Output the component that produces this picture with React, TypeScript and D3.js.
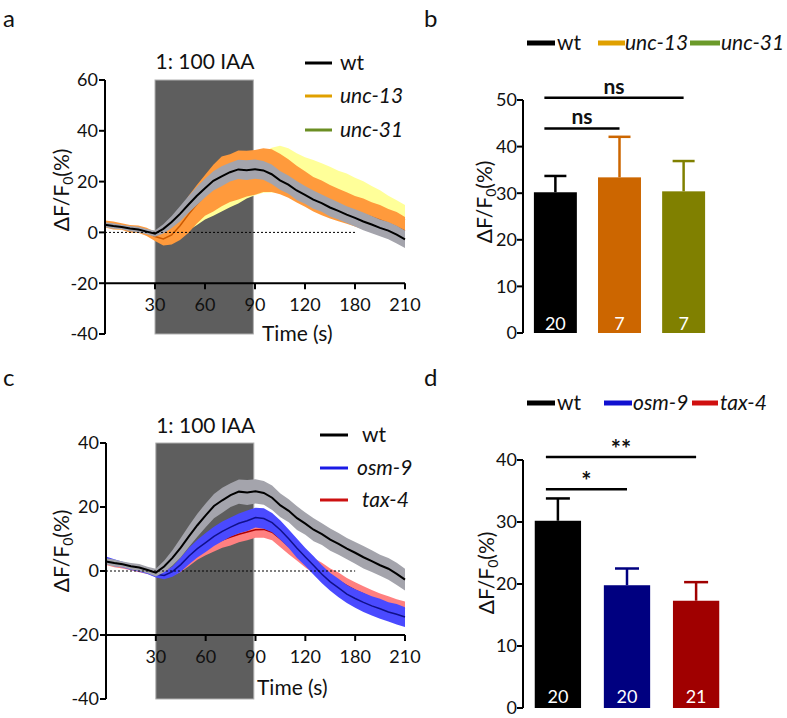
import React from 'react';
import * as d3 from 'd3';

// ---------- DATA ----------
const TIME = [0, 5, 10, 15, 20, 25, 30, 35, 40, 45, 50, 55, 60, 65, 70, 75, 80, 85, 90, 95, 100, 105, 110, 115, 120, 125, 130, 135, 140, 145, 150, 155, 160, 165, 170, 175, 180];
const X_TICK_VALUES = [30, 60, 90, 120, 150, 180];
const X_TICK_LABELS = ['30', '60', '90', '120', '180', '210'];
const STIMULUS = [30, 89];
const STIM_LABEL = '1: 100 IAA';

const WT_MEAN = [3.0, 2.5, 2.1, 1.5, 1.1, 0.3, -0.5, 1.4, 4.1, 7.3, 10.9, 14.3, 17.4, 20.3, 22.1, 23.7, 24.8, 24.5, 24.9, 24.4, 22.9, 20.5, 18.8, 16.5, 14.8, 12.9, 11.5, 9.8, 8.5, 7.0, 5.7, 4.3, 3.1, 1.8, 0.7, -0.9, -2.7];
const WT_SEM = [1.0, 1.1, 0.9, 1.0, 1.1, 1.0, 1.2, 1.8, 2.4, 3.0, 3.3, 3.6, 3.7, 3.8, 3.9, 3.7, 3.8, 3.9, 3.8, 3.7, 3.8, 3.7, 3.6, 3.7, 3.5, 3.6, 3.4, 3.5, 3.4, 3.3, 3.4, 3.5, 3.4, 3.3, 3.4, 3.5, 3.4];

const UNC13_MEAN = [3.3, 2.7, 2.3, 1.4, 1.3, 0.2, -1.6, -2.6, -1.0, 2.6, 7.0, 11.0, 14.6, 17.4, 20.1, 21.4, 22.6, 23.1, 23.6, 24.5, 24.3, 23.0, 21.2, 19.0, 17.1, 15.0, 13.6, 12.1, 10.8, 9.6, 8.3, 7.2, 6.1, 4.9, 3.6, 2.2, 0.6];
const UNC13_SEM = [1.4, 1.6, 1.3, 1.5, 1.4, 1.6, 1.8, 2.6, 3.8, 5.6, 7.2, 7.6, 8.0, 9.2, 9.8, 9.4, 9.6, 9.0, 8.8, 8.6, 8.4, 8.0, 7.6, 7.2, 7.0, 6.8, 6.8, 6.6, 6.4, 6.2, 6.0, 6.1, 5.8, 5.9, 5.6, 5.8, 5.5];

const UNC31_MEAN = [3.1, 2.4, 2.0, 1.6, 1.0, 0.4, -0.6, -1.5, -1.4, 0.6, 3.1, 5.4, 8.1, 10.2, 12.6, 15.1, 17.4, 20.1, 22.0, 23.6, 24.5, 24.9, 24.3, 22.6, 21.0, 19.7, 18.6, 17.0, 15.8, 14.5, 13.1, 11.9, 10.5, 9.0, 7.4, 6.1, 4.8];
const UNC31_SEM = [1.0, 1.1, 1.0, 0.9, 1.1, 1.0, 1.2, 1.6, 2.0, 2.2, 2.4, 2.6, 3.0, 3.6, 4.4, 5.2, 6.0, 6.8, 7.4, 8.0, 8.8, 9.2, 8.8, 8.6, 8.6, 8.8, 8.6, 8.8, 8.5, 8.7, 8.4, 8.2, 7.8, 7.6, 7.0, 6.6, 6.0];

const OSM9_MEAN = [3.5, 2.6, 2.0, 1.3, 0.8, 0.0, -1.0, -1.4, -0.2, 2.0, 4.7, 7.0, 8.9, 10.8, 12.4, 13.7, 14.9, 15.7, 16.7, 16.4, 15.1, 12.8, 10.1, 7.1, 4.4, 1.7, -1.0, -3.4, -5.3, -7.2, -8.6, -9.8, -10.9, -11.8, -12.8, -13.5, -14.4];
const OSM9_SEM = [1.0, 1.1, 0.9, 1.0, 1.0, 0.9, 1.0, 1.2, 1.6, 2.2, 2.6, 2.8, 3.0, 3.0, 3.1, 3.0, 3.1, 3.2, 3.1, 3.2, 3.0, 3.0, 2.9, 3.0, 2.8, 2.9, 2.8, 2.8, 2.9, 2.8, 2.9, 3.0, 3.0, 3.1, 3.0, 3.2, 3.1];

const TAX4_MEAN = [2.8, 2.2, 1.7, 1.2, 0.5, 0.1, -0.8, -1.0, -0.2, 1.5, 3.7, 5.8, 7.3, 8.6, 9.7, 10.6, 11.5, 12.2, 12.9, 13.0, 12.1, 10.0, 7.7, 5.6, 3.6, 1.7, 0.1, -1.6, -3.0, -4.6, -6.0, -7.2, -8.4, -9.4, -10.4, -11.2, -12.0];
const TAX4_SEM = [0.9, 1.0, 0.9, 1.0, 0.9, 1.0, 1.0, 1.1, 1.4, 1.8, 2.1, 2.3, 2.4, 2.5, 2.4, 2.6, 2.5, 2.6, 2.5, 2.6, 2.5, 2.6, 2.5, 2.4, 2.5, 2.4, 2.5, 2.4, 2.5, 2.4, 2.5, 2.4, 2.5, 2.4, 2.5, 2.4, 2.5];

const BAR_B_CATS = ['wt', 'unc-13', 'unc-31'];
const BAR_B_MEANS = [30.2, 33.4, 30.4];
const BAR_B_ERR = [3.5, 8.7, 6.5];
const BAR_B_N = ['20', '7', '7'];
const SIG_B_FROM = [0, 0];
const SIG_B_TO = [2, 1];
const SIG_B_Y = [50.5, 43.9];
const SIG_B_LABEL = ['ns', 'ns'];

const BAR_D_CATS = ['wt', 'osm-9', 'tax-4'];
const BAR_D_MEANS = [30.2, 19.8, 17.3];
const BAR_D_ERR = [3.6, 2.7, 3.0];
const BAR_D_N = ['20', '20', '21'];
const SIG_D_FROM = [0, 0];
const SIG_D_TO = [2, 1];
const SIG_D_Y = [40.5, 35.3];
const SIG_D_LABEL = ['**', '*'];

// ---------- STYLE ----------
const FONT = 'Lato, "Open Sans", sans-serif';

type Series = { mean: number[]; sem: number[]; band: string; line: string; lw: number };

function YLabel({ x, y }: { x: number; y: number }) {
  return (
    <text transform={`translate(${x},${y}) rotate(-90)`} textAnchor="middle" fontSize={21} fontFamily={FONT} fill="#111">
      ΔF/F<tspan fontSize={14} dy={4}>0</tspan>
      <tspan dy={-4}>(%)</tspan>
    </text>
  );
}

function TracePanel(props: {
  x0: number; x1: number; yDomain: [number, number]; yRange: [number, number];
  series: Series[]; legendNames: string[]; legendColors: string[]; legendItalic: boolean[];
  legendLineX: [number, number]; legendTextX: number[]; legendY: number[];
  titleY: number; timeX: number; timeY: number; yLabelX: number; yLabelY: number;
}) {
  const x = d3.scaleLinear().domain([0, 180]).range([props.x0, props.x1]);
  const y = d3.scaleLinear().domain(props.yDomain).range(props.yRange);
  const axisY = y(-20);
  const yTicks = y.ticks(5);
  return (
    <g fontFamily={FONT}>
      <rect x={x(STIMULUS[0])} y={y(props.yDomain[1])} width={x(STIMULUS[1]) - x(STIMULUS[0])}
        height={y(props.yDomain[0]) - y(props.yDomain[1])} fill="#5e5e5e" stroke="#b0b0b0" strokeWidth={1} />
      <text x={x(60)} y={props.titleY} textAnchor="middle" fontSize={21} fill="#111">{STIM_LABEL}</text>
      {props.series.map((s, k) => {
        const band = d3.area<number>()
          .x((_, i) => x(TIME[i]))
          .y0((m, i) => y(m - s.sem[i]))
          .y1((m, i) => y(m + s.sem[i]));
        const line = d3.line<number>().x((_, i) => x(TIME[i])).y((m) => y(m));
        return (
          <g key={k}>
            <path d={band(s.mean) || ''} fill={s.band} stroke="none" />
            <path d={line(s.mean) || ''} fill="none" stroke={s.line} strokeWidth={s.lw} />
          </g>
        );
      })}
      <line x1={x(0)} x2={x(150)} y1={y(0)} y2={y(0)} stroke="#000" strokeWidth={1} strokeDasharray="2,2" />
      {/* y axis */}
      <line x1={x(0)} x2={x(0)} y1={y(props.yDomain[0])} y2={y(props.yDomain[1])} stroke="#000" strokeWidth={2} />
      {yTicks.map((t) => (
        <g key={t}>
          <line x1={x(0) - 6} x2={x(0)} y1={y(t)} y2={y(t)} stroke="#000" strokeWidth={2} />
          <text x={x(0) - 7} y={y(t)} dy="0.36em" textAnchor="end" fontSize={18} fill="#111">{t}</text>
        </g>
      ))}
      {/* x axis */}
      <line x1={x(0)} x2={x(180)} y1={axisY} y2={axisY} stroke="#000" strokeWidth={2} />
      {X_TICK_VALUES.map((t, i) => (
        <g key={t}>
          <line x1={x(t)} x2={x(t)} y1={axisY} y2={axisY + 6} stroke="#000" strokeWidth={2} />
          <text x={x(t)} y={axisY + 28} textAnchor="middle" fontSize={18} fill="#111">{X_TICK_LABELS[i]}</text>
        </g>
      ))}
      <text x={props.timeX} y={props.timeY} fontSize={21} fill="#111">Time (s)</text>
      <YLabel x={props.yLabelX} y={props.yLabelY} />
      {props.legendNames.map((n, i) => (
        <g key={n}>
          <line x1={props.legendLineX[0]} x2={props.legendLineX[1]} y1={props.legendY[i]} y2={props.legendY[i]}
            stroke={props.legendColors[i]} strokeWidth={3} />
          <text x={props.legendTextX[i]} y={props.legendY[i]} dy="0.35em" fontSize={21}
            fontStyle={props.legendItalic[i] ? 'italic' : 'normal'} fill="#111">{n}</text>
        </g>
      ))}
    </g>
  );
}

function BarPanel(props: {
  cats: string[]; means: number[]; errs: number[]; ns: string[]; colors: string[];
  range: [number, number]; yDomain: [number, number]; yRange: [number, number];
  sigFrom: number[]; sigTo: number[]; sigY: number[]; sigLabel: string[]; sigBold: boolean; sigSize: number; sigOffset: number;
  legendColors: string[]; legendLineX: [number, number][]; legendTextX: number[]; legendY: number;
  yLabelX: number; yLabelY: number; nY: number; capW: number;
}) {
  const x = d3.scaleBand<string>().domain(props.cats).range(props.range).paddingInner(0.33).paddingOuter(0.17);
  const y = d3.scaleLinear().domain(props.yDomain).range(props.yRange);
  const ax = props.range[0];
  const bw = x.bandwidth();
  return (
    <g fontFamily={FONT}>
      {props.cats.map((c, i) => {
        const cx = (x(c) as number) + bw / 2;
        return (
          <g key={c}>
            <line x1={cx} x2={cx} y1={y(props.means[i])} y2={y(props.means[i] + props.errs[i])} stroke={props.colors[i]} strokeWidth={2.5} />
            <line x1={cx - props.capW / 2} x2={cx + props.capW / 2} y1={y(props.means[i] + props.errs[i])} y2={y(props.means[i] + props.errs[i])} stroke={props.colors[i]} strokeWidth={2.5} />
            <rect x={x(c)} y={y(props.means[i])} width={bw} height={y(0) - y(props.means[i])} fill={props.colors[i]} />
            <text x={cx} y={props.nY} textAnchor="middle" fontSize={18} fill="#fff">{props.ns[i]}</text>
          </g>
        );
      })}
      <line x1={ax} x2={ax} y1={y(props.yDomain[0])} y2={y(props.yDomain[1])} stroke="#000" strokeWidth={2} />
      {y.ticks(5).map((t) => (
        <g key={t}>
          <line x1={ax - 6} x2={ax} y1={y(t)} y2={y(t)} stroke="#000" strokeWidth={2} />
          <text x={ax - 6} y={y(t)} dy="0.36em" textAnchor="end" fontSize={18} fill="#111">{t}</text>
        </g>
      ))}
      {props.sigFrom.map((f, k) => {
        const xa = (x(props.cats[f]) as number) + bw / 2 - props.capW / 2;
        const xb = (x(props.cats[props.sigTo[k]]) as number) + bw / 2;
        return (
          <g key={k}>
            <line x1={xa} x2={xb} y1={y(props.sigY[k])} y2={y(props.sigY[k])} stroke="#000" strokeWidth={2.5} />
            <text x={(xa + xb) / 2} y={y(props.sigY[k]) - props.sigOffset} textAnchor="middle" fontSize={props.sigSize}
              fontWeight={props.sigBold ? 'bold' : 'normal'} fill="#111">{props.sigLabel[k]}</text>
          </g>
        );
      })}
      <YLabel x={props.yLabelX} y={props.yLabelY} />
      {props.cats.map((c, i) => (
        <g key={'lg' + c}>
          <line x1={props.legendLineX[i][0]} x2={props.legendLineX[i][1]} y1={props.legendY} y2={props.legendY}
            stroke={props.legendColors[i]} strokeWidth={5} />
          <text x={props.legendTextX[i]} y={props.legendY} dy="0.35em" fontSize={21}
            fontStyle={i === 0 ? 'normal' : 'italic'} fill="#111">{c}</text>
        </g>
      ))}
    </g>
  );
}

export default function App() {
  const seriesA: Series[] = [
    { mean: UNC31_MEAN, sem: UNC31_SEM, band: '#ffff99', line: '#6b8e23', lw: 1.5 },
    { mean: UNC13_MEAN, sem: UNC13_SEM, band: '#ff9a3c', line: '#cc5a00', lw: 1.5 },
    { mean: WT_MEAN, sem: WT_SEM, band: '#a4a4ac', line: '#000000', lw: 2 },
  ];
  const seriesC: Series[] = [
    { mean: TAX4_MEAN, sem: TAX4_SEM, band: '#ff8080', line: '#b00000', lw: 1.5 },
    { mean: OSM9_MEAN, sem: OSM9_SEM, band: '#4a4aff', line: '#10108a', lw: 1.5 },
    { mean: WT_MEAN, sem: WT_SEM, band: '#a4a4ac', line: '#000000', lw: 2 },
  ];
  return (
    <svg width={787} height={718} style={{ position: 'absolute', left: 0, top: 0, background: '#fff' }}>
      <rect width={787} height={718} fill="#fff" />
      <g fontFamily={FONT} fontSize={24} fill="#111">
        <text x={3} y={27}>a</text>
        <text x={424} y={27}>b</text>
        <text x={3} y={386}>c</text>
        <text x={424} y={386}>d</text>
      </g>
      <TracePanel x0={105} x1={405} yDomain={[-40, 60]} yRange={[334, 80]} series={seriesA}
        legendNames={['wt', 'unc-13', 'unc-31']} legendColors={['#000000', '#e0a000', '#6b8e23']}
        legendItalic={[false, true, true]} legendLineX={[305, 332]} legendTextX={[340, 340, 340]}
        legendY={[63, 96, 130]} titleY={69} timeX={262} timeY={341} yLabelX={69} yLabelY={190} />
      <TracePanel x0={106} x1={405} yDomain={[-40, 40]} yRange={[699, 443]} series={seriesC}
        legendNames={['wt', 'osm-9', 'tax-4']} legendColors={['#000000', '#1a1ae6', '#cc1111']}
        legendItalic={[false, true, true]} legendLineX={[320, 348]} legendTextX={[362, 357, 362]}
        legendY={[435, 468, 500]} titleY={433} timeX={257} timeY={695} yLabelX={69} yLabelY={551} />
      <BarPanel cats={BAR_B_CATS} means={BAR_B_MEANS} errs={BAR_B_ERR} ns={BAR_B_N}
        colors={['#000000', '#cc6600', '#808000']} range={[523, 716]} yDomain={[0, 50]} yRange={[333, 100]}
        sigFrom={SIG_B_FROM} sigTo={SIG_B_TO} sigY={SIG_B_Y} sigLabel={SIG_B_LABEL} sigBold={true} sigSize={21} sigOffset={4}
        legendColors={['#000000', '#e0a000', '#6b9a2a']} legendLineX={[[527, 555], [598, 625], [690, 720]]}
        legendTextX={[557, 625, 721]} legendY={43} yLabelX={492} yLabelY={202} nY={330} capW={22} />
      <BarPanel cats={BAR_D_CATS} means={BAR_D_MEANS} errs={BAR_D_ERR} ns={BAR_D_N}
        colors={['#000000', '#000080', '#a00000']} range={[523, 731]} yDomain={[0, 40]} yRange={[708, 460]}
        sigFrom={SIG_D_FROM} sigTo={SIG_D_TO} sigY={SIG_D_Y} sigLabel={SIG_D_LABEL} sigBold={true} sigSize={24} sigOffset={-1}
        legendColors={['#000000', '#1010d0', '#d01010']} legendLineX={[[527, 555], [604, 632], [692, 718]]}
        legendTextX={[557, 633, 720]} legendY={403} yLabelX={494} yLabelY={573} nY={703} capW={24} />
    </svg>
  );
}
